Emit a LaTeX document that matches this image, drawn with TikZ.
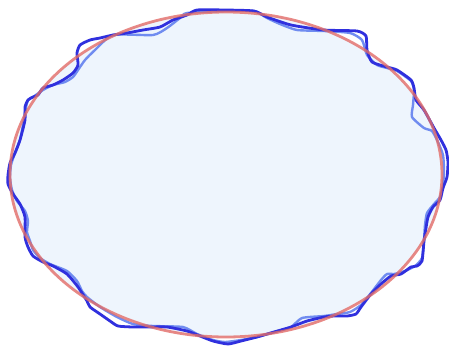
\documentclass[tikz,border=0pt]{standalone}
\begin{document}
\begin{tikzpicture}[x=1pt,y=-1pt,
  redline/.style={draw={rgb,255:red,226;green,108;blue,104},line width=2.8pt,opacity=0.8},
  darkline/.style={draw={rgb,255:red,48;green,48;blue,222},line width=2.8pt,line join=round},
  lightline/.style={draw={rgb,255:red,112;green,140;blue,240},line width=2.4pt,line join=round}]
\useasboundingbox (0,0) rectangle (449,349);
\fill[fill={rgb,255:red,238;green,245;blue,253}] (226,174.5) ellipse [x radius=216, y radius=162.5];
% light blue wavy outline
\draw[lightline] plot[smooth cycle,tension=0.35] coordinates {
(187,13) (225,11) (254,11) (267,18) (280,24) (297,30) (324,31) (350,33) (362,40) (367,55) (377,65) (387,68) (397,71) (411,81) (414,90) (413,105) (412,117) (424,128) (432,131) (438,142) (443,155) (444,170) (443,185) (440,197) (434,204) (427,213) (425,225) (424,240) (422,258) (415,266) (405,271) (394,274) (387,274) (381,280) (371,293) (361,305) (350,312) (337,314) (324,316) (302,318) (291,327) (274,332) (257,337) (241,340) (225,342) (213,340) (197,334) (183,327) (153,326) (133,324) (117,317) (100,307) (87,297) (82,291) (77,281) (67,271) (50,264) (40,258) (33,250) (30,241) (27,232) (28,221) (25,211) (17,201) (12,190) (10,178) (11,165) (15,153) (20,140) (23,125) (25,112) (28,100) (33,97) (43,90) (53,85) (65,82) (73,77) (78,70) (85,60) (95,50) (113,35) (153,35) (167,28) (180,18)};
% dark blue wavy outline
\draw[darkline] plot[smooth cycle,tension=0.35] coordinates {
(197,10) (225,10) (254,11) (267,17) (291,25) (324,30) (357,31) (366,36) (367,50) (372,62) (387,67) (397,70) (411,80) (414,88) (416,100) (424,110) (434,128) (441,140) (446,150) (448,162) (447,177) (443,188) (440,200) (433,207) (428,217) (426,228) (424,241) (422,261) (417,266) (411,267) (401,274) (391,276) (381,284) (371,294) (361,307) (356,314) (347,316) (334,316) (324,317) (307,321) (291,327) (274,332) (257,337) (241,341) (228,344) (213,341) (200,336) (187,331) (167,327) (150,327) (133,327) (118,326) (110,321) (100,314) (90,307) (87,301) (78,287) (67,274) (53,266) (43,262) (33,256) (28,247) (25,237) (25,217) (20,204) (13,194) (8,184) (8,175) (10,163) (15,153) (20,140) (25,120) (25,107) (28,100) (33,97) (38,95) (43,88) (53,85) (63,80) (73,73) (78,65) (77,53) (80,45) (90,40) (100,38) (113,35) (127,33) (143,30) (160,27) (173,20) (187,15)};
% red ellipse
\draw[redline] (226,174.5) ellipse [x radius=216, y radius=162.5];
\end{tikzpicture}
\end{document}
